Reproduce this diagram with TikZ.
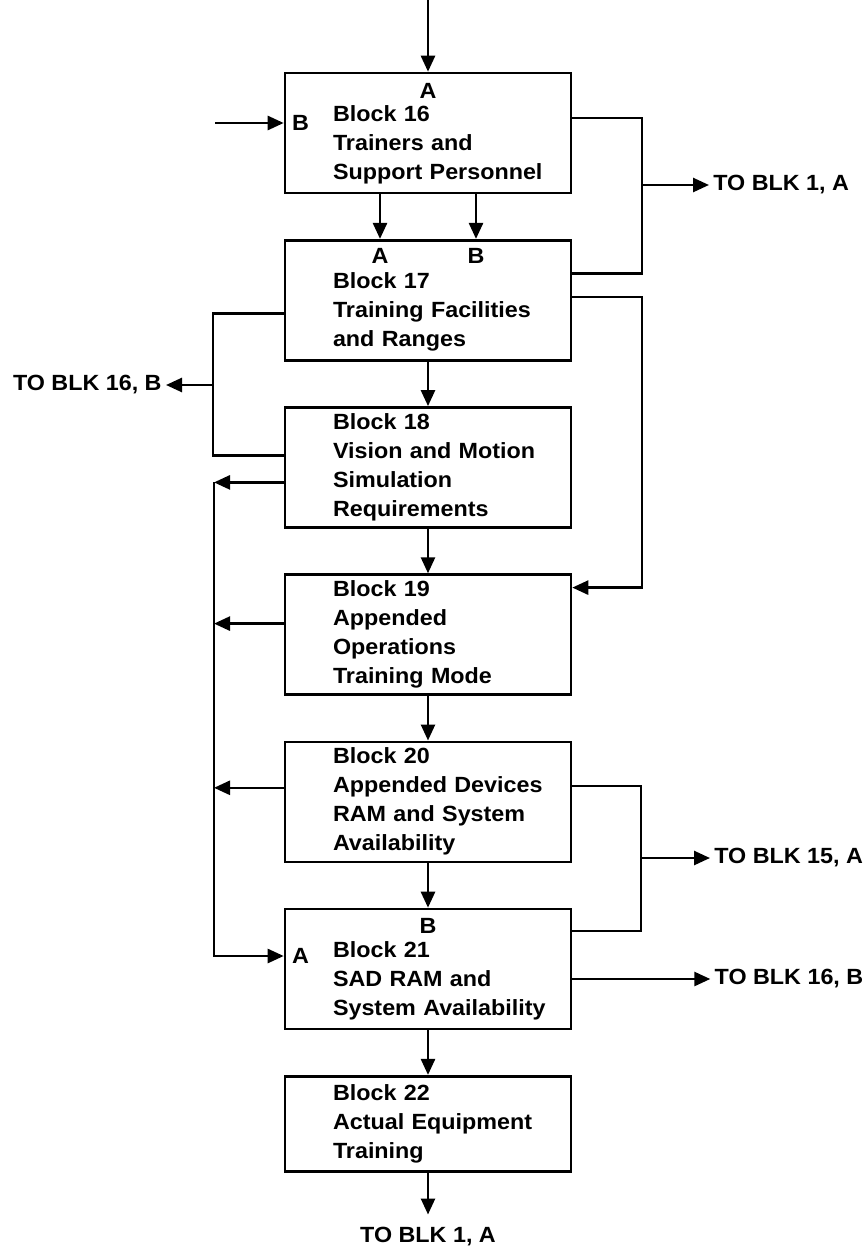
\documentclass[tikz,border=0pt]{standalone}
\usepackage{fontspec}
\setmainfont{Liberation Sans}[FakeStretch=1.06]
\usetikzlibrary{positioning, arrows.meta}
\newcommand{\blkfont}{\bfseries\fontsize{11}{14.5}\selectfont}
\newcommand{\toppad}{\rule{0pt}{20pt}}

\begin{document}
\begin{tikzpicture}[
          x=0.5pt, y=-0.5pt,
          node distance=22.3pt,
          block/.style={rectangle, draw, line width=1.3pt,
                        minimum width=143pt, minimum height=60pt,
                        text width=143pt, inner xsep=0pt, inner ysep=0pt,
                        align=left, font=\blkfont,
                        execute at begin node={\leftskip=24pt}},
          port/.style={inner sep=0pt, font=\blkfont},
          outlbl/.style={inner sep=2pt, font=\blkfont},
          line/.style={line width=1.3pt},
          arrow/.style={line, -{Triangle[length=8pt, width=7pt]}},
        ]
        \useasboundingbox (0,0) rectangle (867,1247);
        % main column
        \node[block] (b16) at (428,133) {\toppad Block 16\\ Trainers and\\ Support Personnel};
        \node[block, below=of b16] (b17) {\toppad Block 17\\ Training Facilities\\ and Ranges};
        \node[block, below=of b17] (b18) {Block 18\\ Vision and Motion\\ Simulation\\ Requirements};
        \node[block, below=of b18] (b19) {Block 19\\ Appended\\ Operations\\ Training Mode};
        \node[block, below=of b19] (b20) {Block 20\\ Appended Devices\\ RAM and System\\ Availability};
        \node[block, below=of b20] (b21) {\toppad Block 21\\ SAD RAM and\\ System Availability};
        \node[block, below=of b21, minimum height=47.5pt] (b22) {Block 22\\ Actual Equipment\\ Training};
        % input letters
        \node[port, anchor=north] (b16A) at ([yshift=-5.5pt]b16.north) {A};
        \node[port, anchor=west] (b16B) at ([xshift=4pt, yshift=5pt]b16.west) {B};
        \node[port, anchor=north] (b17A) at ([xshift=-24pt, yshift=-4.5pt]b17.north) {A};
        \node[port, anchor=north] (b17B) at ([xshift=24pt, yshift=-4.5pt]b17.north) {B};
        \node[port, anchor=north] (b21B) at ([yshift=-5pt]b21.north) {B};
        \node[port, anchor=west] (b21A) at ([xshift=4pt, yshift=6.5pt]b21.west) {A};
        % bus points
        \coordinate (in16) at (428,0);
        \coordinate (inB) at (215,123);
        \coordinate (busR1) at (642,185);
        \coordinate (busR2) at (642,297);
        \coordinate (busR3) at (641,858);
        \coordinate (busL1) at (213,385);
        \coordinate (busL2) at (214,482);
        \coordinate (e16) at ([yshift=7.5pt]b16.east);
        \coordinate (e17) at ([yshift=13.5pt]b17.east);
        \coordinate (e19) at ([yshift=23.5pt]b19.east);
        \coordinate (e20) at ([yshift=8pt]b20.east);
        \coordinate (e21) at ([yshift=19pt]b21.east);
        \coordinate (f21) at ([yshift=-5pt]b21.east);
        \coordinate (w17) at ([yshift=-6.5pt]b17.west);
        \coordinate (w18) at ([yshift=6pt]b18.west);
        \coordinate (v18) at ([yshift=-7.5pt]b18.west);
        \coordinate (w19) at ([yshift=5.5pt]b19.west);
        \coordinate (w20) at ([yshift=7pt]b20.west);
        \coordinate (w21) at ([yshift=6.5pt]b21.west);
        % off-page references
        \node[outlbl, anchor=west] (to1A) at ([xshift=33.5pt]busR1) {TO BLK 1, A};
        \node[outlbl, anchor=east] (to16B) at ([xshift=-23.5pt]busL1) {TO BLK 16, B};
        \node[outlbl, anchor=west] (to15A) at ([xshift=34.5pt]busR3) {TO BLK 15, A};
        \node[outlbl, anchor=west] (to16Bb) at ([xshift=69pt]f21) {TO BLK 16, B};
        \node[outlbl, below=21pt of b22, inner sep=6pt] (to1Ab) {TO BLK 1, A};
        % flow down the column
        \draw[arrow] (in16) -- (b16);
        \draw[arrow] (inB) -- (inB -| b16.west);
        \draw[arrow] ([xshift=-24pt]b16.south) -- ([xshift=-24pt]b17.north);
        \draw[arrow] ([xshift=24pt]b16.south) -- ([xshift=24pt]b17.north);
        \draw[arrow] (b17) -- (b18);
        \draw[arrow] (b18) -- (b19);
        \draw[arrow] (b19) -- (b20);
        \draw[arrow] (b20) -- (b21);
        \draw[arrow] (b21) -- (b22);
        \draw[arrow] (b22) -- (to1Ab);
        % right side
        \draw[line] (e16) -| (busR1) |- (e17);
        \draw[arrow] (busR1) -- (busR1 -| to1A.west);
        \draw[arrow] (busR2 -| b17.east) -- (busR2) |- (e19);
        \draw[line] (e20) -| (busR3) |- (e21);
        \draw[arrow] (busR3) -- (busR3 -| to15A.west);
        \draw[arrow] (f21) -- (f21 -| to16Bb.west);
        % left side
        \draw[line] (w17) -| (busL1) |- (w18);
        \draw[arrow] (busL1) -- (busL1 -| to16B.east);
        \draw[arrow] (v18) -- (v18 -| busL2);
        \draw[arrow] (w19) -- (w19 -| busL2);
        \draw[arrow] (w20) -- (w20 -| busL2);
        \draw[arrow] (v18 -| busL2) |- (w21);
      \end{tikzpicture}
\end{document}
